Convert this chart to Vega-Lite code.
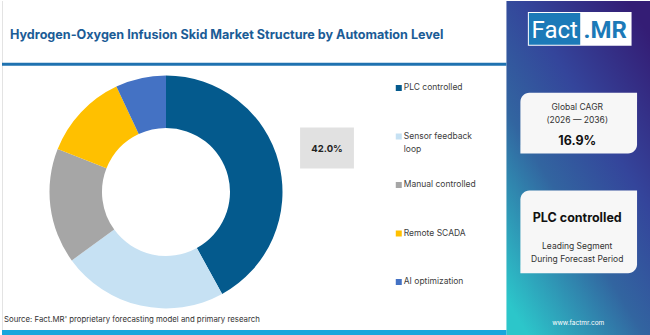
{
  "$schema": "https://vega.github.io/schema/vega-lite/v6.json",
  "width": 650,
  "height": 335,
  "autosize": {"type": "fit", "contains": "padding"},
  "padding": 0,
  "background": "white",
  "config": {"view": {"stroke": null}, "text": {"font": "Inter"}},
  "datasets": {
    "share": [
      {"category": "PLC controlled", "share": 0.42},
      {"category": "Sensor feedback loop", "share": 0.23},
      {"category": "Manual controlled", "share": 0.16},
      {"category": "Remote SCADA", "share": 0.12},
      {"category": "AI optimization", "share": 0.07}
    ]
  },
  "layer": [
    {
      "data": {"values": [{}]},
      "layer": [
        {
          "mark": {"type": "rect", "fill": {"gradient": "linear", "x1": 0.85, "y1": 0, "x2": 0.15, "y2": 1, "stops": [
            {"offset": 0, "color": "#341d75"},
            {"offset": 0.35, "color": "#34459b"},
            {"offset": 0.62, "color": "#3265a0"},
            {"offset": 1, "color": "#2cc6ca"}
          ]}},
          "encoding": {
            "x": {"datum": 506, "type": "quantitative", "scale": {"domain": [0, 650], "nice": false, "zero": false}, "axis": null},
            "x2": {"datum": 650},
            "y": {"datum": 0, "type": "quantitative", "scale": {"domain": [0, 335], "nice": false, "zero": false, "reverse": true}, "axis": null},
            "y2": {"datum": 335}
          }
        },
        {
          "mark": {"type": "rule", "color": "#e3e3e3", "strokeWidth": 1},
          "encoding": {"x": {"datum": 0.5, "type": "quantitative"}, "y": {"datum": 0, "type": "quantitative"}, "y2": {"datum": 330}}
        },
        {
          "mark": {"type": "rule", "color": "#1f72b0", "strokeWidth": 3},
          "encoding": {"x": {"datum": 0, "type": "quantitative"}, "x2": {"datum": 506}, "y": {"datum": 63.5, "type": "quantitative"}}
        },
        {
          "mark": {"type": "rect", "color": "#17a6dc"},
          "encoding": {"x": {"datum": 0, "type": "quantitative"}, "x2": {"datum": 506}, "y": {"datum": 330, "type": "quantitative"}, "y2": {"datum": 335}}
        },
        {
          "mark": {"type": "text", "text": "Hydrogen-Oxygen Infusion Skid Market Structure by Automation Level", "fontSize": 12.6, "fontWeight": "bold", "color": "#1b5c96", "align": "left", "baseline": "alphabetic"},
          "encoding": {"x": {"datum": 8, "type": "quantitative"}, "y": {"datum": 38, "type": "quantitative"}}
        },
        {
          "mark": {"type": "text", "text": "Source: Fact.MR' proprietary forecasting model and primary research", "fontSize": 7.8, "color": "#333333", "align": "left", "baseline": "middle"},
          "encoding": {"x": {"datum": 2, "type": "quantitative"}, "y": {"datum": 320, "type": "quantitative"}}
        },
        {
          "mark": {"type": "rect", "color": "white"},
          "encoding": {"x": {"datum": 527.5, "type": "quantitative"}, "x2": {"datum": 631.5}, "y": {"datum": 11, "type": "quantitative"}, "y2": {"datum": 45}}
        },
        {
          "mark": {"type": "rect", "color": "#1c7ab8"},
          "encoding": {"x": {"datum": 528.5, "type": "quantitative"}, "x2": {"datum": 580}, "y": {"datum": 12, "type": "quantitative"}, "y2": {"datum": 44}}
        },
        {
          "mark": {"type": "text", "text": "Fact", "font": "Roboto", "fontSize": 24, "color": "white", "align": "center", "baseline": "alphabetic"},
          "encoding": {"x": {"datum": 554.5, "type": "quantitative"}, "y": {"datum": 37, "type": "quantitative"}}
        },
        {
          "mark": {"type": "text", "text": ".MR", "font": "Roboto", "fontSize": 24, "fontWeight": "bold", "color": "#1c7ab8", "align": "center", "baseline": "alphabetic"},
          "encoding": {"x": {"datum": 605, "type": "quantitative"}, "y": {"datum": 37, "type": "quantitative"}}
        },
        {
          "mark": {"type": "rect", "color": "#f7f7f7", "cornerRadiusTopLeft": 9, "cornerRadiusBottomRight": 9},
          "encoding": {"x": {"datum": 520, "type": "quantitative"}, "x2": {"datum": 637}, "y": {"datum": 92, "type": "quantitative"}, "y2": {"datum": 153}}
        },
        {
          "mark": {"type": "rect", "color": "#f7f7f7", "cornerRadiusTopLeft": 9, "cornerRadiusBottomRight": 9},
          "encoding": {"x": {"datum": 520, "type": "quantitative"}, "x2": {"datum": 637}, "y": {"datum": 190, "type": "quantitative"}, "y2": {"datum": 273}}
        },
        {
          "mark": {"type": "text", "text": "Global CAGR", "fontSize": 8.5, "color": "#333333", "align": "center", "baseline": "middle"},
          "encoding": {"x": {"datum": 577, "type": "quantitative"}, "y": {"datum": 106, "type": "quantitative"}}
        },
        {
          "mark": {"type": "text", "text": "(2026 — 2036)", "fontSize": 8.5, "color": "#333333", "align": "center", "baseline": "middle"},
          "encoding": {"x": {"datum": 577, "type": "quantitative"}, "y": {"datum": 119, "type": "quantitative"}}
        },
        {
          "mark": {"type": "text", "text": "16.9%", "fontSize": 12.5, "fontWeight": "bold", "color": "#111111", "align": "center", "baseline": "middle"},
          "encoding": {"x": {"datum": 577, "type": "quantitative"}, "y": {"datum": 140.5, "type": "quantitative"}}
        },
        {
          "mark": {"type": "text", "text": "PLC controlled", "fontSize": 12.5, "fontWeight": "bold", "color": "#111111", "align": "center", "baseline": "middle"},
          "encoding": {"x": {"datum": 577, "type": "quantitative"}, "y": {"datum": 217.5, "type": "quantitative"}}
        },
        {
          "mark": {"type": "text", "text": "Leading Segment", "fontSize": 8.5, "color": "#333333", "align": "center", "baseline": "middle"},
          "encoding": {"x": {"datum": 577, "type": "quantitative"}, "y": {"datum": 245.5, "type": "quantitative"}}
        },
        {
          "mark": {"type": "text", "text": "During Forecast Period", "fontSize": 8.5, "color": "#333333", "align": "center", "baseline": "middle"},
          "encoding": {"x": {"datum": 577, "type": "quantitative"}, "y": {"datum": 259, "type": "quantitative"}}
        },
        {
          "mark": {"type": "text", "text": "www.factmr.com", "fontSize": 6.5, "color": "white", "align": "center", "baseline": "middle"},
          "encoding": {"x": {"datum": 578, "type": "quantitative"}, "y": {"datum": 323, "type": "quantitative"}}
        },
        {
          "data": {"name": "share"},
          "transform": [{"window": [{"op": "row_number", "as": "slice_order"}]}],
          "mark": {"type": "arc", "innerRadius": 64, "outerRadius": 116.5},
          "encoding": {
            "theta": {"field": "share", "type": "quantitative", "stack": true},
            "order": {"field": "slice_order", "type": "quantitative"},
            "color": {"field": "category", "type": "nominal", "sort": null, "legend": null, "scale": {
              "domain": ["PLC controlled", "Sensor feedback loop", "Manual controlled", "Remote SCADA", "AI optimization"],
              "range": ["#045a8d", "#c6e1f3", "#a6a6a6", "#ffc000", "#4472c4"]
            }},
            "x": {"datum": 164.5, "type": "quantitative"},
            "y": {"datum": 191.5, "type": "quantitative"}
          }
        },
        {
          "mark": {"type": "rect", "color": "#e1e1e1"},
          "encoding": {"x": {"datum": 299, "type": "quantitative"}, "x2": {"datum": 353}, "y": {"datum": 127, "type": "quantitative"}, "y2": {"datum": 168}}
        },
        {
          "data": {"name": "share"},
          "transform": [{"filter": "datum.category === 'PLC controlled'"}],
          "mark": {"type": "text", "fontSize": 9.5, "fontWeight": "bold", "color": "#222222", "align": "center", "baseline": "middle"},
          "encoding": {
            "text": {"field": "share", "type": "quantitative", "format": ".1%"},
            "x": {"datum": 326, "type": "quantitative"},
            "y": {"datum": 148, "type": "quantitative"}
          }
        }
      ]
    },
    {
      "data": {"name": "share"},
      "transform": [
        {"calculate": "datum.category === 'Sensor feedback loop' ? ['Sensor feedback', 'loop'] : datum.category", "as": "label"}
      ],
      "encoding": {
        "y": {"field": "category", "type": "nominal", "sort": null, "axis": null, "scale": {"type": "point", "range": [87, 281], "padding": 0}}
      },
      "layer": [
        {
          "mark": {"type": "point", "shape": "square", "filled": true, "opacity": 1, "size": 36},
          "encoding": {
            "x": {"datum": 398, "type": "quantitative"},
            "color": {"field": "category", "type": "nominal", "sort": null, "legend": null}
          }
        },
        {
          "mark": {"type": "text", "fontSize": 8.5, "color": "#404040", "align": "left", "baseline": "top", "dy": -5, "lineHeight": 13},
          "encoding": {
            "x": {"datum": 403, "type": "quantitative"},
            "text": {"field": "label"}
          }
        }
      ]
    }
  ],
  "resolve": {"scale": {"y": "independent"}}
}
